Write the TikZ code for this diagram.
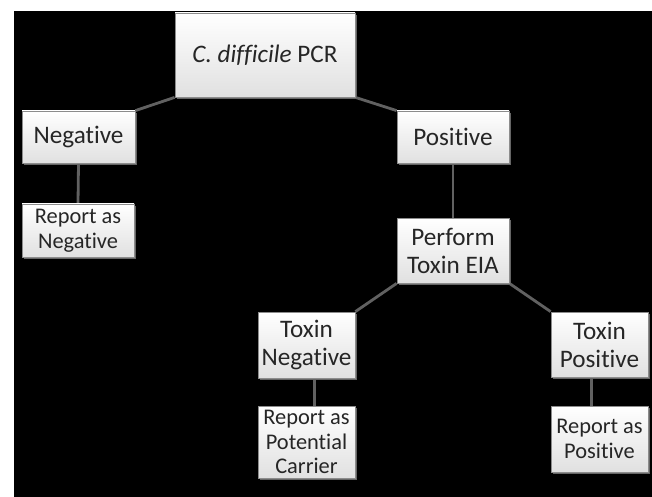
\documentclass[tikz,border=0pt]{standalone}
\usepackage{fontspec}
\setmainfont[Ligatures=NoCommon]{Carlito}
\usetikzlibrary{shadows,backgrounds}

\begin{document}
\begin{tikzpicture}[x=0.5pt,y=-0.5pt,
        box/.style={draw=black!45,line width=0.4pt,top color=white,bottom color=black!12,
          inner sep=0,align=center,text=black!85,font=\fontsize{12.6}{14}\selectfont,
          drop shadow={shadow xshift=1pt,shadow yshift=-1pt,fill=black!60,opacity=1}},
        small/.style={box,font=\fontsize{11.2}{12.4}\selectfont},
        link/.style={draw=black!62,line width=1.4pt}]
        \useasboundingbox (0,0) rectangle (652,497);
        \node[box,minimum width=90pt,minimum height=42pt] (pcr) at (265,55) {\textit{C. difficile} PCR};
        \node[box,minimum width=56.5pt,minimum height=26pt] (neg) at (78.5,137) {Negative};
        \node[box,minimum width=56pt,minimum height=26pt] (pos) at (453,137) {Positive};
        \node[small,minimum width=56pt,minimum height=26.5pt] (repneg) at (78,230.5) {Report as\\Negative};
        \node[box,minimum width=56pt,minimum height=32.5pt] (eia) at (453,250.5) {Perform\\Toxin EIA};
        \node[box,minimum width=48.5pt,minimum height=33pt] (toxneg) at (306.5,345) {Toxin\\Negative};
        \node[box,minimum width=48.5pt,minimum height=32.5pt] (toxpos) at (599.5,344.5) {Toxin\\Positive};
        \node[small,minimum width=48.5pt,minimum height=36pt] (carrier) at (306.5,442) {Report as\\Potential\\Carrier};
        \node[small,minimum width=48.5pt,minimum height=33pt] (reppos) at (599.5,439) {Report as\\Positive};
        \begin{scope}[on background layer]
          \fill[white] (0,0) rectangle (652,497);
          \fill[black] (14,11) rectangle (652,497);
          \draw[link] (pcr.south west) -- (neg.north east);
          \draw[link] (pcr.south east) -- (pos.north west);
          \draw[link] (neg.south) -- (repneg.north);
          \draw[link] (pos.south) -- (eia.north);
          \draw[link] (eia.south west) -- (toxneg.north east);
          \draw[link] (eia.south east) -- (toxpos.north west);
          \draw[link] ([xshift=4pt]toxneg.south) -- ([xshift=4pt]carrier.north);
          \draw[link] ([xshift=-4pt]toxpos.south) -- ([xshift=-4pt]reppos.north);
        \end{scope}
    \end{tikzpicture}
\end{document}
